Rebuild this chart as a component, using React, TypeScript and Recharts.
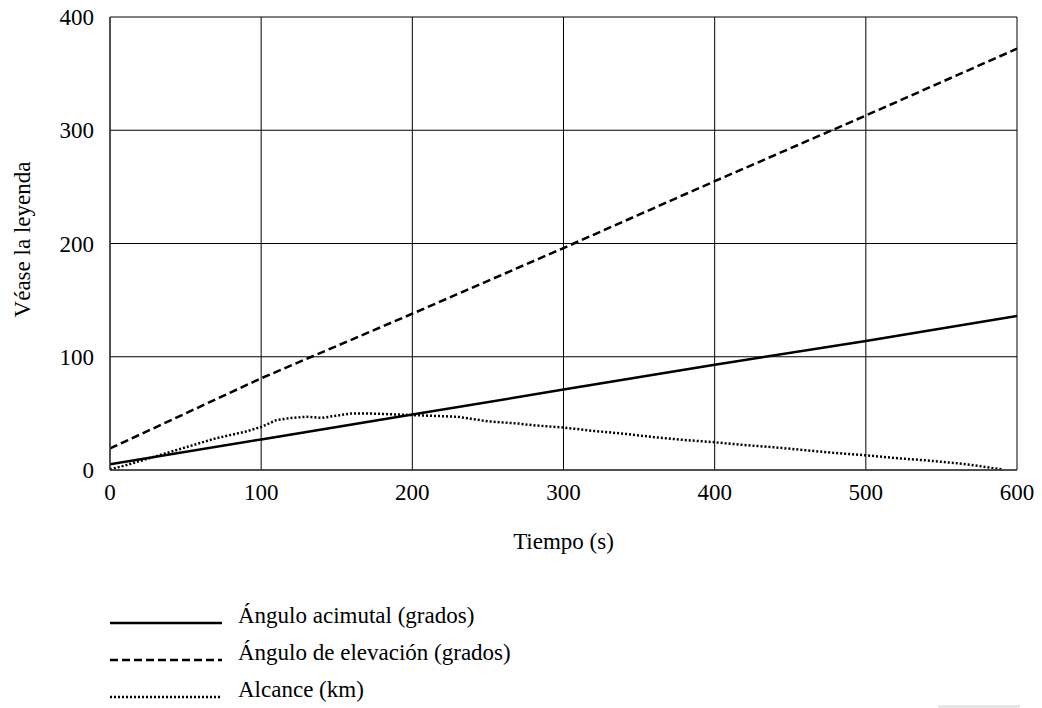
import { LineChart, Line, XAxis, YAxis, CartesianGrid } from "recharts";

const xTicks = [0, 100, 200, 300, 400, 500, 600];
const yTicks = [0, 100, 200, 300, 400];

// Ángulo acimutal (grados)
const azimuthTimes = [0, 100, 200, 300, 400, 500, 600];
const azimuthValues = [5, 27, 49, 71, 93, 114, 136];

// Ángulo de elevación (grados)
const elevationTimes = [0, 100, 200, 300, 400, 500, 600];
const elevationValues = [19, 81, 138, 196, 255, 313, 372];

// Alcance (km)
const rangeTimes = [
  0, 10, 20, 30, 40, 50, 60, 70, 80, 90, 100, 105, 110, 120, 130, 140, 150, 160, 170, 180, 190, 200,
  210, 220, 230, 240, 250, 260, 270, 280, 290, 300, 320, 340, 360, 380, 400, 420, 440, 460, 480, 500,
  520, 540, 560, 575, 590,
];
const rangeValues = [
  0.5, 4, 8, 12, 16, 20, 24, 28, 31, 34, 38, 41, 44, 46, 47, 46, 48, 50, 50, 49.5, 49, 48.5,
  48, 47.5, 47, 45, 43, 42, 41, 39.5, 38.5, 37.5, 34.5, 32, 29, 26.5, 24.5, 22, 20, 17.5, 15, 13,
  10.5, 8.5, 6, 3.5, 0.5,
];

const zip = (ts: number[], vs: number[]) => ts.map((t, i) => ({ t, v: vs[i] }));

const FONT = "'Liberation Serif', 'Times New Roman', serif";
const FS = 23;

const series = [
  { name: "Ángulo acimutal (grados)", data: zip(azimuthTimes, azimuthValues), dash: undefined as string | undefined },
  { name: "Ángulo de elevación (grados)", data: zip(elevationTimes, elevationValues), dash: "8 4" },
  { name: "Alcance (km)", data: zip(rangeTimes, rangeValues), dash: "2 2" },
];

const YLabel = (props: any) => {
  const vb = props.viewBox || { x: 0, y: 0, width: 0, height: 0 };
  const cx = vb.x + 22;
  const cy = vb.y + vb.height / 2 - 4;
  return (
    <text x={cx} y={cy} transform={`rotate(-90 ${cx} ${cy})`} textAnchor="middle" dominantBaseline="central"
      fontFamily={FONT} fontSize={FS} fill="#000">
      Véase la leyenda
    </text>
  );
};

export default function App() {
  return (
    <div style={{ position: "absolute", left: 0, top: 0, width: 1042, height: 708, background: "#fff", fontFamily: FONT }}>
      <LineChart width={1042} height={708} margin={{ top: 17, right: 25, left: 0, bottom: 159 }}>
        <CartesianGrid stroke="#000" strokeWidth={1} />
        <XAxis
          type="number"
          dataKey="t"
          domain={[0, 600]}
          ticks={xTicks}
          allowDataOverflow
          tickLine={false}
          axisLine={{ stroke: "#404040", strokeWidth: 1.5 }}
          tick={{ fill: "#000", fontSize: FS, fontFamily: FONT }}
          tickMargin={8}
          height={79}
          label={{ value: "Tiempo (s)", position: "insideBottom", offset: 0, fill: "#000", fontSize: FS, fontFamily: FONT }}
        />
        <YAxis
          type="number"
          domain={[0, 400]}
          ticks={yTicks}
          width={110}
          tickLine={false}
          axisLine={{ stroke: "#404040", strokeWidth: 1.5 }}
          tick={{ fill: "#000", fontSize: FS, fontFamily: FONT }}
          tickMargin={10}
          label={<YLabel />}
        />
        {series.map((s) => (
          <Line
            key={s.name}
            data={s.data}
            dataKey="v"
            type="linear"
            stroke="#000"
            strokeWidth={2.5}
            strokeDasharray={s.dash}
            dot={false}
            isAnimationActive={false}
          />
        ))}
      </LineChart>
      <svg width={1042} height={708} style={{ position: "absolute", left: 0, top: 0, pointerEvents: "none" }}>
        {series.map((s, i) => {
          const baseline = 623 + i * 37;
          return (
            <g key={s.name}>
              <line x1={110} y1={baseline} x2={222} y2={baseline} stroke="#000" strokeWidth={2.5} strokeDasharray={s.dash} />
              <text x={238} y={baseline} fontFamily={FONT} fontSize={FS} fill="#000">{s.name}</text>
            </g>
          );
        })}
        <rect x={938} y={705} width={82} height={3} fill="#e6e6e6" />
      </svg>
    </div>
  );
}
